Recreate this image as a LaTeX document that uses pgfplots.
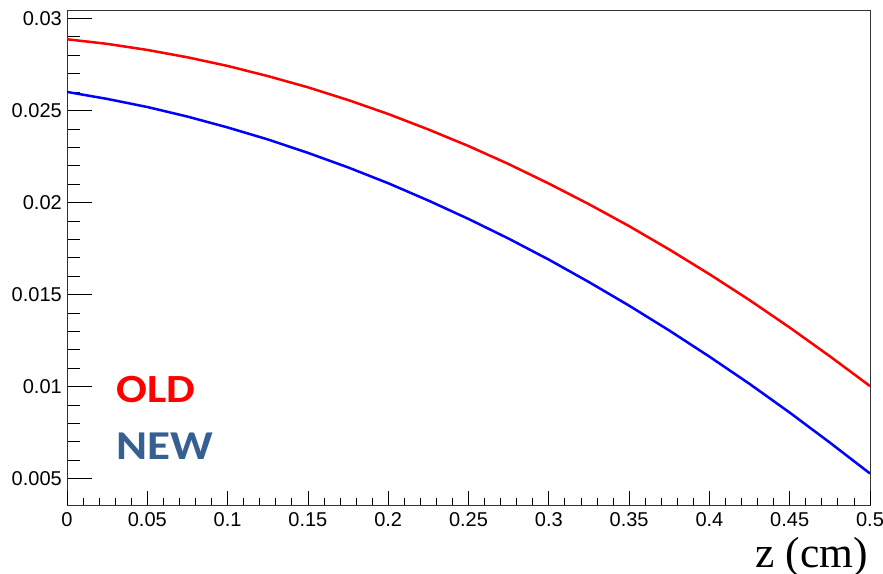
\documentclass[border=0pt]{standalone}
\usepackage{pgfplots}
\pgfplotsset{compat=1.18}
\usepackage{pgfplotstable}
\usepackage{fontspec}
\setmainfont{Liberation Sans}
\newfontfamily\serifz{Liberation Serif}
\newfontfamily\calib{Carlito}
\definecolor{oldred}{RGB}{255,0,0}
\definecolor{newblue}{RGB}{54,96,146}

% field profile along z for the old and new designs
\pgfplotstableread{
z      old      new
0.000  0.02887  0.02601
0.025  0.02862  0.02563
0.050  0.02829  0.02519
0.075  0.02789  0.02467
0.100  0.02742  0.02408
0.125  0.02687  0.02343
0.150  0.02626  0.02270
0.175  0.02557  0.02191
0.200  0.02481  0.02105
0.225  0.02397  0.02011
0.250  0.02307  0.01911
0.275  0.02209  0.01804
0.300  0.02103  0.01690
0.325  0.01991  0.01568
0.350  0.01872  0.01440
0.375  0.01745  0.01305
0.400  0.01611  0.01163
0.425  0.01470  0.01015
0.450  0.01321  0.00859
0.475  0.01165  0.00696
0.500  0.01003  0.00528
}\profiles

\begin{document}
\begin{tikzpicture}
\useasboundingbox (-67pt,-68pt) rectangle (816pt,505pt);
\pgfplotsset{
  base/.style={
    scale only axis, width=803pt, height=495pt,
    xmin=0, xmax=0.5, ymin=0.00357, ymax=0.03046,
    tick align=inside, tick pos=left,
    tick style={black, line width=0.8pt},
    ticklabel style={font=\fontsize{20}{24}\selectfont, inner sep=0pt},
  }
}
\begin{axis}[base,
  axis line style={black!80, line width=0.9pt},
  xtick=\empty,
  ytick={0.005,0.01,0.015,0.02,0.025,0.03},
  yticklabels={0.005,0.01,0.015,0.02,0.025,0.03},
  minor y tick num=4,
  major tick length=25pt, minor tick length=13pt,
  yticklabel style={xshift=-5pt},
]
\addplot[oldred, line width=2.5pt] table[x=z, y=old] {\profiles};
\addplot[blue, line width=2.5pt] table[x=z, y=new] {\profiles};
\node[anchor=base west, inner sep=0pt, xscale=1.14, text=oldred, font=\calib\bfseries\fontsize{40}{40}\selectfont]
  at (rel axis cs:0.0615,0.208) {OLD};
\node[anchor=base west, inner sep=0pt, xscale=1.15, text=newblue, font=\calib\bfseries\fontsize{41}{41}\selectfont]
  at (rel axis cs:0.0615,0.092) {NEW};
\end{axis}
\begin{axis}[base,
  axis line style={draw=none},
  ytick=\empty,
  xtick={0,0.05,0.1,0.15,0.2,0.25,0.3,0.35,0.4,0.45,0.5},
  xticklabels={0,0.05,0.1,0.15,0.2,0.25,0.3,0.35,0.4,0.45,0.5},
  minor x tick num=4,
  major tick length=14pt, minor tick length=7pt,
  xticklabel style={yshift=-7pt},
]
\end{axis}
\node[anchor=base east, inner sep=0pt, font=\serifz\fontsize{43.5}{44}\selectfont]
  at (801pt,-62pt) {z (cm)};
\end{tikzpicture}
\end{document}
